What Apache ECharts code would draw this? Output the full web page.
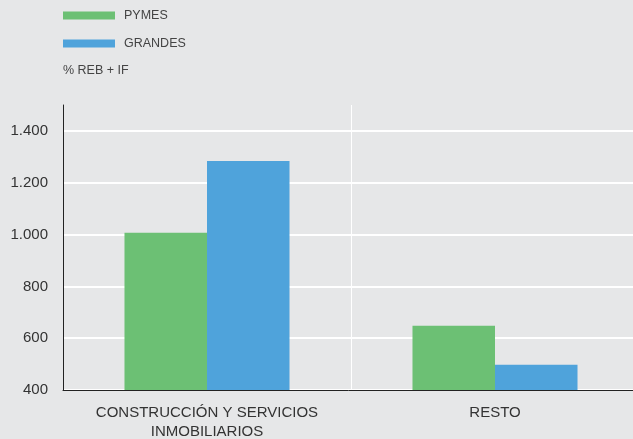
<!DOCTYPE html>
<html>
<head>
<meta charset="utf-8">
<script src="https://cdn.jsdelivr.net/npm/echarts@6/dist/echarts.min.js"></script>
<style>
html, body { margin: 0; padding: 0; background: #e6e7e8; }
#chart { width: 633px; height: 439px; }
</style>
</head>
<body>
<div id="chart"></div>
<script>
var chart = echarts.init(document.getElementById('chart'));

var categories = ['CONSTRUCCIÓN Y SERVICIOS\nINMOBILIARIOS', 'RESTO'];
var pymes = [1007, 648];
var grandes = [1284, 497];

var option = {
	backgroundColor: '#e6e7e8',
	textStyle: { fontFamily: 'Liberation Sans, Arial, sans-serif' },
	legend: {
		orient: 'vertical',
		left: 63,
		top: 9,
		padding: 0,
		itemWidth: 52,
		itemHeight: 8,
		itemGap: 15,
		icon: 'rect',
		textStyle: { color: '#444', fontSize: 12.5, padding: [0, 0, 0, 4] },
		data: ['PYMES', 'GRANDES']
	},
	graphic: [{
		type: 'text',
		left: 63,
		top: 64,
		style: { text: '% REB + IF', fill: '#444', fontSize: 12.5, fontFamily: 'Liberation Sans, Arial, sans-serif' }
	}],
	grid: {
		left: 63,
		top: 105,
		width: 576,
		height: 285,
		outerBoundsMode: 'none'
	},
	xAxis: {
		type: 'category',
		data: categories,
		axisLine: { lineStyle: { color: '#222', width: 1 } },
		axisTick: { show: false },
		axisLabel: { color: '#333', fontSize: 15, margin: 13, lineHeight: 19, interval: 0 },
		splitLine: { show: true, interval: 0, lineStyle: { color: '#fff', width: 1 } }
	},
	yAxis: {
		type: 'value',
		min: 400,
		max: 1500,
		interval: 200,
		axisLine: { show: true, lineStyle: { color: '#222', width: 1 } },
		axisTick: { show: false },
		axisLabel: {
			color: '#333',
			fontSize: 15,
			margin: 15,
			showMaxLabel: false,
			formatter: function (v) { return String(v).replace(/\B(?=(\d{3})+(?!\d))/g, '.'); }
		},
		splitLine: { show: true, showMaxLine: false, lineStyle: { color: '#fff', width: 2 } }
	},
	series: [{
		name: 'PYMES',
		type: 'bar',
		data: pymes,
		barGap: '0%',
		barCategoryGap: '42.7%',
		itemStyle: { color: '#6cc074' }
	}, {
		name: 'GRANDES',
		type: 'bar',
		data: grandes,
		itemStyle: { color: '#4fa3db' }
	}]
};

chart.setOption(option);
</script>
</body>
</html>
